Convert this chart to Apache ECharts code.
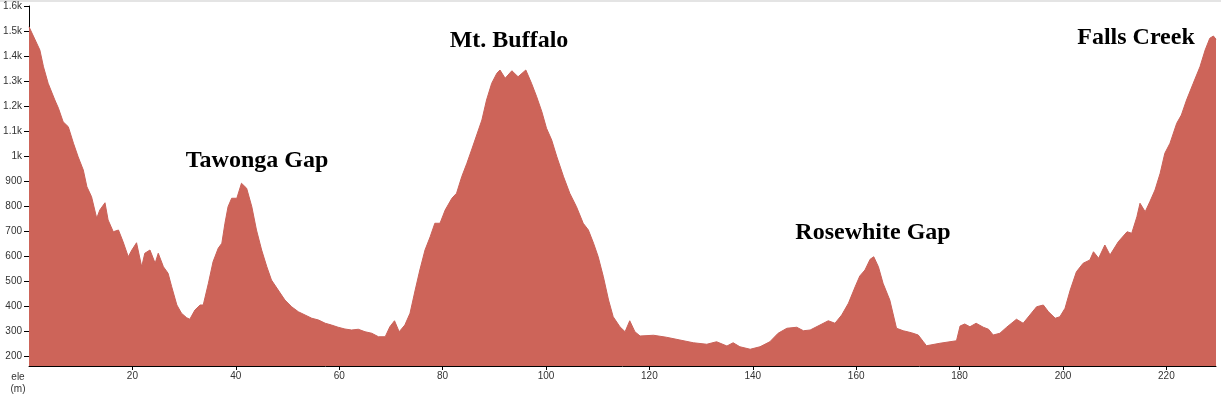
<!DOCTYPE html>
<html>
<head>
<meta charset="utf-8">
<title>Elevation profile</title>
<script src="https://cdn.jsdelivr.net/npm/echarts@6/dist/echarts.min.js"></script>
<style>
  html, body { margin: 0; padding: 0; background: #fff; }
  #chart { width: 1221px; height: 399px; }
</style>
</head>
<body>
<div id="chart"></div>
<script>
// distance along the route (km)
const distKm = [
  0, 1.2, 2.1, 2.8, 3.7, 5.0, 5.7, 6.6, 7.6, 8.6, 9.5, 10.5, 11.2, 12.1, 13.1, 13.7, 14.7,
  15.3, 16.3, 17.3, 18.2, 19.2, 19.9, 20.8, 21.8, 22.4, 23.4, 24.4, 25.0, 26.0, 26.9, 27.6,
  28.6, 29.5, 30.5, 31.1, 32.1, 33.1, 33.7, 34.7, 35.6, 36.6, 37.3, 37.9, 38.5, 39.2, 40.2,
  41.1, 42.1, 43.1, 44.0, 45.0, 46.0, 46.9, 48.2, 49.5, 50.8, 52.1, 53.4, 54.7, 56.0, 57.3,
  58.5, 59.8, 61.1, 62.4, 63.7, 65.0, 66.3, 67.6, 68.9, 69.8, 70.7, 71.6, 72.7, 73.7, 74.7,
  75.6, 76.6, 77.6, 78.5, 79.5, 80.5, 81.8, 82.7, 83.7, 84.7, 85.6, 86.6, 87.6, 88.5, 89.5,
  90.5, 91.1, 92.1, 93.4, 94.6, 96.1, 97.2, 98.2, 99.2, 100.1, 101.1, 102.1, 103.4, 104.6,
  105.9, 107.2, 108.2, 109.2, 110.1, 111.1, 112.1, 113.0, 114.3, 115.3, 116.2, 117.2, 118.2,
  120.8, 123.3, 125.9, 128.5, 131.1, 133.0, 135.0, 136.2, 137.5, 139.5, 141.4, 143.3, 144.9,
  146.6, 148.5, 149.8, 151.1, 153.0, 154.6, 155.9, 157.2, 158.5, 159.8, 160.7, 161.7, 162.7,
  163.4, 164.3, 165.2, 166.5, 167.8, 169.1, 170.7, 172.0, 173.0, 173.6, 176.2, 179.4, 180.1,
  181.0, 182.0, 183.2, 184.6, 185.6, 186.5, 187.8, 189.1, 191.0, 192.3, 193.6, 194.9, 196.2,
  197.2, 198.5, 199.4, 200.4, 201.4, 202.6, 203.9, 205.2, 205.9, 206.9, 208.1, 209.1, 210.7,
  212.4, 213.3, 214.3, 214.9, 215.9, 216.8, 217.8, 218.8, 219.7, 220.7, 222.0, 222.9, 223.9,
  225.2, 226.5, 227.5, 228.4, 229.1, 229.6
];

// elevation (m)
const elevM = [
  1517, 1464, 1424, 1357, 1291, 1224, 1191, 1137, 1117, 1051, 997, 944, 877, 837, 751, 784, 813,
  744, 697, 704, 657, 597, 624, 653, 557, 611, 624, 571, 611, 557, 531, 477,
  404, 371, 353, 347, 384, 404, 404, 491, 577, 631, 651, 731, 797, 831, 831,
  891, 871, 797, 704, 624, 557, 504, 464, 424, 397, 377, 364, 351, 344, 331,
  324, 315, 308, 304, 307, 297, 291, 277, 277, 317, 341, 297, 324, 371, 464,
  544, 624, 677, 731, 731, 784, 831, 851, 917, 971, 1024, 1084, 1144, 1224, 1291,
  1331, 1344, 1311, 1341, 1317, 1344, 1291, 1237, 1177, 1111, 1064, 997, 917, 851,
  797, 731, 704, 651, 597, 517, 424, 357, 317, 297, 341, 297, 280,
  283, 275, 264, 253, 247, 257, 240, 253, 237, 227, 237, 257, 291,
  311, 315, 301, 304, 324, 341, 331, 364, 411, 477, 520, 544, 587,
  597, 557, 491, 424, 311, 301, 293, 284, 257, 241, 251, 261, 320,
  328, 317, 331, 315, 307, 284, 291, 315, 347, 331, 364, 397, 404,
  377, 351, 357, 391, 464, 537, 571, 584, 617, 591, 644, 604, 657,
  697, 691, 757, 811, 777, 817, 864, 931, 1011, 1051, 1131, 1164, 1224,
  1291, 1357, 1424, 1471, 1480, 1467
];

const yTicks = [200, 300, 400, 500, 600, 700, 800, 900, 1000, 1100, 1200, 1300, 1400, 1500, 1600];

const peakNames = ['Tawonga Gap', 'Mt. Buffalo', 'Rosewhite Gap', 'Falls Creek'];
const peakLabelPos = [[257, 161], [509, 41], [873, 233], [1136, 38]];

const chart = echarts.init(document.getElementById('chart'));

const labelFont = 'Liberation Serif, "Times New Roman", serif';
const tickFont = 'Arial, "Liberation Sans", sans-serif';

chart.setOption({
  animation: false,
  backgroundColor: '#fff',
  grid: { left: 29, right: 5, top: 6, bottom: 33 },
  xAxis: {
    type: 'value',
    min: 0,
    max: 229.6,
    interval: 20,
    splitLine: { show: false },
    axisLine: { lineStyle: { color: '#000', width: 1 } },
    axisTick: { show: true, length: 4, lineStyle: { color: '#000' } },
    axisLabel: {
      showMinLabel: false,
      showMaxLabel: false,
      color: '#333',
      fontSize: 10,
      fontFamily: tickFont,
      margin: 5
    }
  },
  yAxis: {
    type: 'value',
    min: 160,
    max: 1600,
    splitLine: { show: false },
    axisLine: { show: true, lineStyle: { color: '#000', width: 1 } },
    axisTick: { show: true, length: 5, customValues: yTicks, lineStyle: { color: '#000' } },
    axisLabel: {
      customValues: yTicks,
      color: '#333',
      fontSize: 10,
      fontFamily: tickFont,
      margin: 7,
      formatter: (v) => (v >= 1000 ? (v / 1000) + 'k' : String(v))
    }
  },
  series: [
    {
      type: 'line',
      data: distKm.map((d, i) => [d, elevM[i]]),
      symbol: 'none',
      smooth: false,
      lineStyle: { color: '#c96259', width: 1 },
      areaStyle: { color: '#cd6459', opacity: 1 },
      silent: true
    }
  ],
  graphic: [
    { type: 'rect', left: 0, top: 0, shape: { width: 1221, height: 2 }, style: { fill: '#e4e4e4' } },
    { type: 'text', x: 18, y: 377, style: { text: 'ele', fontSize: 10, fill: '#333', fontFamily: tickFont, align: 'center', verticalAlign: 'middle' } },
    { type: 'text', x: 18, y: 389, style: { text: '(m)', fontSize: 10, fill: '#333', fontFamily: tickFont, align: 'center', verticalAlign: 'middle' } }
  ].concat(peakNames.map((name, i) => ({
    type: 'text',
    x: peakLabelPos[i][0],
    y: peakLabelPos[i][1],
    z: 10,
    style: {
      text: name,
      fontSize: 24,
      fontWeight: 'bold',
      fontFamily: labelFont,
      fill: '#000',
      align: 'center',
      verticalAlign: 'middle'
    }
  })))
});
</script>
</body>
</html>
